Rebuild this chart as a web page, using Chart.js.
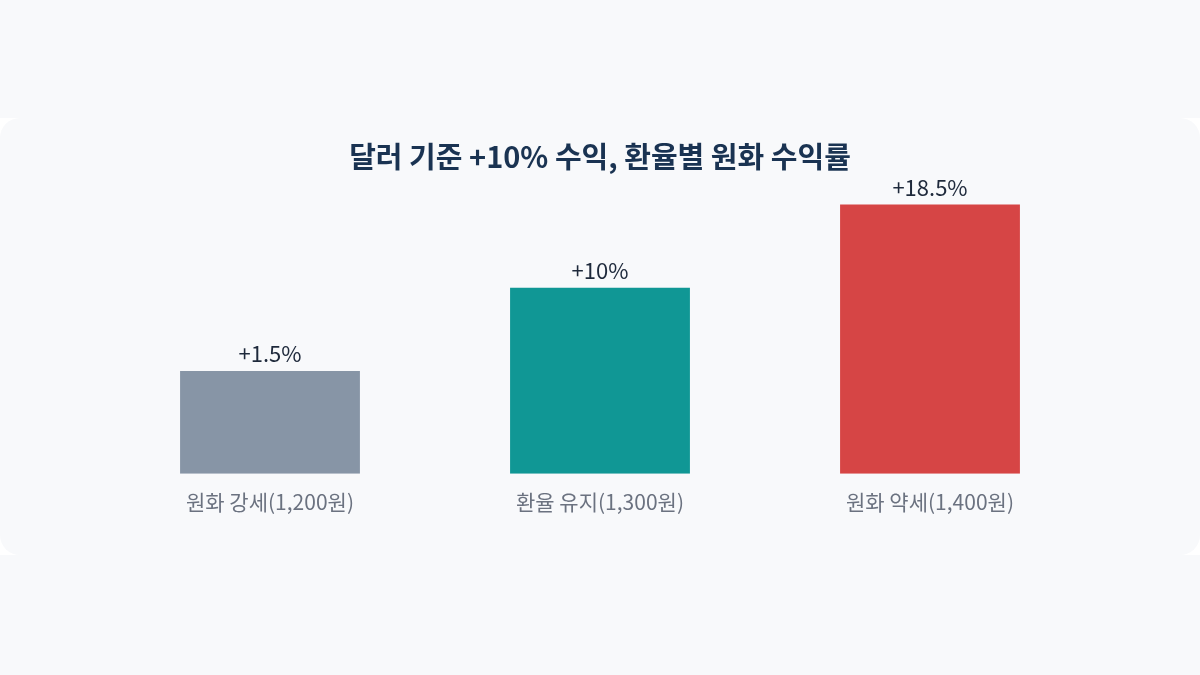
<!DOCTYPE html>
<html>
<head>
<meta charset="utf-8">
<script src="https://cdn.jsdelivr.net/npm/chart.js@4"></script>
<style>
  html, body { margin: 0; padding: 0; background: #f8f9fb; }
  #strip { position: absolute; left: 0; top: 118px; width: 1200px; height: 437px; background: #ffffff; }
  #card { position: absolute; left: 0; top: 0; width: 1200px; height: 437px; background: #f8f9fb; border-radius: 20px; }
  #wrap { position: absolute; left: 0; top: 0; width: 1200px; height: 675px; }
</style>
</head>
<body>
<div id="strip"><div id="card"></div></div>
<div id="wrap"><canvas id="chart" width="1200" height="675"></canvas></div>
<script>
'use strict';

const categories = ['원화 강세(1,200원)', '환율 유지(1,300원)', '원화 약세(1,400원)'];
const returns = [1.5, 10, 18.5];
const valueLabels = ['+1.5%', '+10%', '+18.5%'];
const barColors = ['#8795a6', '#109795', '#d64545'];
const axisMin = -9;
const axisMax = 19.5;

const FONT = "'Noto Sans CJK KR', 'Noto Sans', sans-serif";

const valueLabelPlugin = {
    id: 'valueLabels',
    afterDatasetsDraw(chart) {
        const ctx = chart.ctx;
        const meta = chart.getDatasetMeta(0);
        ctx.save();
        ctx.font = `22px ${FONT}`;
        ctx.fillStyle = '#1e293b';
        ctx.textAlign = 'center';
        ctx.textBaseline = 'bottom';
        meta.data.forEach((bar, i) => {
            ctx.fillText(valueLabels[i], bar.x, bar.y - 6);
        });
        ctx.restore();
    }
};

new Chart(document.getElementById('chart'), {
    type: 'bar',
    data: {
        labels: categories,
        datasets: [{
            data: returns,
            base: axisMin,
            backgroundColor: barColors,
            barPercentage: 0.545,
            categoryPercentage: 1,
        }],
    },
    options: {
        responsive: false,
        animation: false,
        layout: { padding: { left: 105, right: 105, top: 140, bottom: 152 } },
        plugins: {
            legend: { display: false },
            tooltip: { enabled: false },
            title: {
                display: true,
                text: '달러 기준 +10% 수익, 환율별 원화 수익률',
                color: '#1a3352',
                font: { family: FONT, size: 29, weight: 'bold' },
                padding: { top: 0, bottom: 20 },
            },
        },
        scales: {
            x: {
                grid: { display: false },
                border: { display: false },
                ticks: { color: '#6b7280', font: { family: FONT, size: 21 }, padding: 8 },
            },
            y: {
                display: false,
                min: axisMin,
                max: axisMax,
            },
        },
    },
    plugins: [valueLabelPlugin],
});
</script>
</body>
</html>
